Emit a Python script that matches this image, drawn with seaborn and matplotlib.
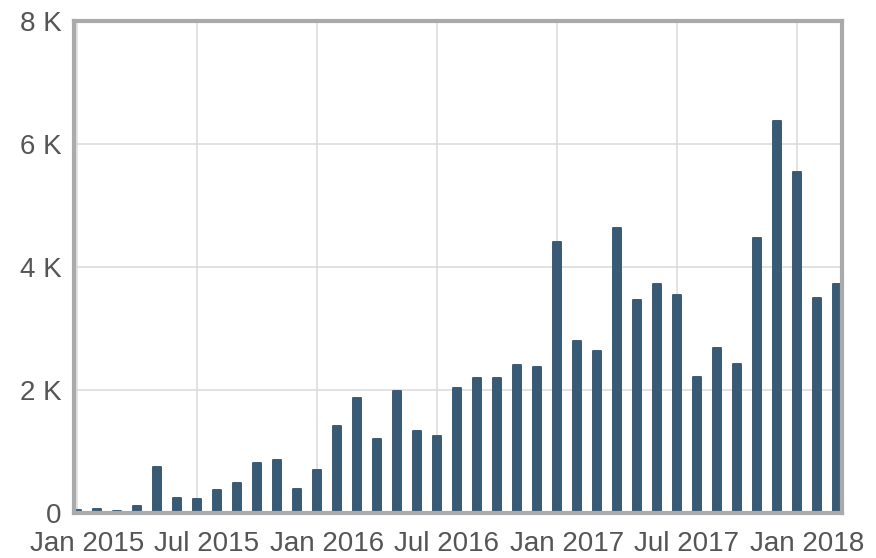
import matplotlib
matplotlib.use("Agg")
import matplotlib.pyplot as plt
from matplotlib.transforms import ScaledTranslation
import seaborn as sns
import pandas as pd

months = [
    "2015-01", "2015-02", "2015-03", "2015-04", "2015-05", "2015-06",
    "2015-07", "2015-08", "2015-09", "2015-10", "2015-11", "2015-12",
    "2016-01", "2016-02", "2016-03", "2016-04", "2016-05", "2016-06",
    "2016-07", "2016-08", "2016-09", "2016-10", "2016-11", "2016-12",
    "2017-01", "2017-02", "2017-03", "2017-04", "2017-05", "2017-06",
    "2017-07", "2017-08", "2017-09", "2017-10", "2017-11", "2017-12",
    "2018-01", "2018-02", "2018-03",
]
values = [
    50, 60, 40, 120, 755, 250, 220, 375, 485, 810, 865, 385,
    700, 1410, 1870, 1200, 1990, 1330, 1260, 2040, 2200, 2200, 2400, 2380,
    4410, 2790, 2640, 4630, 3470, 3730, 3540, 2210, 2690, 2430, 4470, 6370,
    5540, 3490, 3730,
]
xtick_months = ["2015-01", "2015-07", "2016-01", "2016-07", "2017-01", "2017-07", "2018-01"]
xtick_labels = ["Jan 2015", "Jul 2015", "Jan 2016", "Jul 2016", "Jan 2017", "Jul 2017", "Jan 2018"]
ytick_values = [0, 2000, 4000, 6000, 8000]
ytick_labels = ["0", "2 K", "4 K", "6 K", "8 K"]

df = pd.DataFrame({"month": months, "value": values})
df["idx"] = range(len(df))

sns.set_theme(style="white")
plt.rcParams["font.family"] = ["Liberation Sans", "DejaVu Sans"]

W, H = 876, 558
fig = plt.figure(figsize=(W / 100, H / 100), dpi=100)
ax = fig.add_axes([74 / W, 1 - 513 / H, (842 - 74) / W, (513 - 21) / H])

bar_color = "#395a75"
sns.barplot(data=df, x="idx", y="value", native_scale=True, width=0.36,
            color=bar_color, saturation=1, ax=ax, zorder=3,
            edgecolor=bar_color, linewidth=1.4)
for p in ax.patches:
    p.set_joinstyle("round")

ax.set_xlim(-0.15, 38.25)
ax.set_ylim(0, 8000)

tick_pos = [months.index(m) for m in xtick_months]
ax.set_xticks(tick_pos)
ax.set_xticklabels(xtick_labels)
ax.set_yticks(ytick_values)
ax.set_yticklabels(ytick_labels)
ax.set_xlabel("")
ax.set_ylabel("")

ax.grid(True, color="#dadada", linewidth=1.1, zorder=0)
ax.set_axisbelow(True)
for s in ax.spines.values():
    s.set_visible(True)
    s.set_color("#aaaaaa")
    s.set_linewidth(3)
    s.set_zorder(5)

ax.tick_params(axis="both", length=0, labelsize=20, colors="#555555")
ax.tick_params(axis="y", pad=9)
ax.tick_params(axis="x", pad=13)
for lab in ax.get_xticklabels():
    lab.set_transform(lab.get_transform() + ScaledTranslation(10 / 100, 0, fig.dpi_scale_trans))

fig.savefig("out.png", dpi=100, facecolor="white")
